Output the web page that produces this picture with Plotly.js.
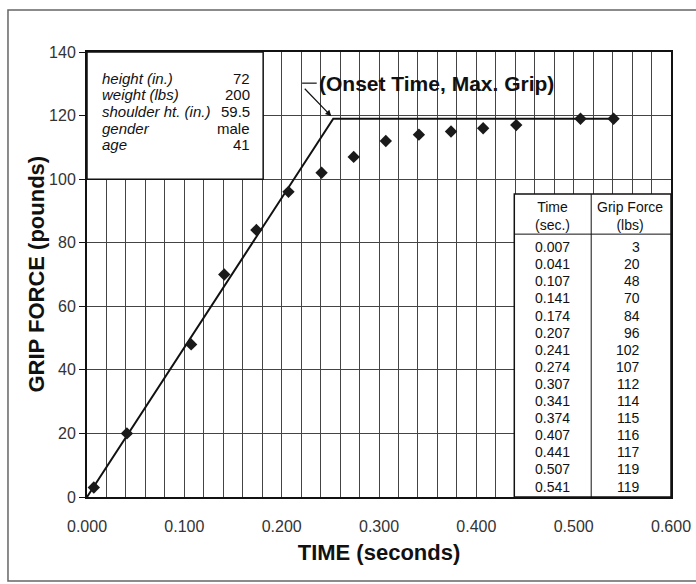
<!DOCTYPE html>
<html>
<head>
<meta charset="utf-8">
<script src="https://cdn.plot.ly/plotly-3.0.1.min.js"></script>
<style>
  html, body { margin: 0; padding: 0; background: #fff; }
  #chart { width: 696px; height: 584px; }
</style>
</head>
<body>
<div id="chart"></div>
<script>
// Measured grip force samples
const times = [0.007, 0.041, 0.107, 0.141, 0.174, 0.207, 0.241, 0.274, 0.307, 0.341, 0.374, 0.407, 0.441, 0.507, 0.541];
const force = [3, 20, 48, 70, 84, 96, 102, 107, 112, 114, 115, 116, 117, 119, 119];

// Ramp-and-hold fit: linear rise to the onset point, then constant
const onsetTime = 0.253;
const maxGrip = 119;
const fitX = [0, onsetTime, 0.541];
const fitY = [0, maxGrip, maxGrip];

// Subject description
const infoLabels = ['height (in.)', 'weight (lbs)', 'shoulder ht. (in.)', 'gender', 'age'];
const infoValues = ['72', '200', '59.5', 'male', '41'];

// Axis ticks
const xTicks = [0, 0.1, 0.2, 0.3, 0.4, 0.5, 0.6];
const yTicks = [0, 20, 40, 60, 80, 100, 120, 140];

const FONT = 'Liberation Sans, Arial, Helvetica, sans-serif';

const traces = [
  {
    x: fitX, y: fitY, type: 'scatter', mode: 'lines',
    line: { color: '#111', width: 2 }, hoverinfo: 'skip', showlegend: false
  },
  {
    x: times, y: force, type: 'scatter', mode: 'markers',
    marker: { symbol: 'diamond', size: 9.5, color: '#1a1a1a' },
    showlegend: false
  }
];

const shapes = [];
const annotations = [];

// Outer frame around the figure
shapes.push({
  type: 'rect', xref: 'paper', yref: 'paper',
  x0: -0.1353, x1: 1.06, y0: -0.1888, y1: 1.0944,
  line: { color: '#666', width: 1.5 }, fillcolor: 'rgba(0,0,0,0)', layer: 'below'
});

// Subject info box (top left)
shapes.push({
  type: 'rect', xref: 'x', yref: 'y', x0: 0, x1: 0.181, y0: 100, y1: 140,
  line: { color: '#111', width: 1.5 }, fillcolor: '#fff', layer: 'above'
});
const infoTop = 131.8, infoStep = 5.25;
infoLabels.forEach((lab, i) => {
  const y = infoTop - i * infoStep;
  annotations.push({
    x: 0.0134, y: y, xref: 'x', yref: 'y', text: '<i>' + lab + '</i>',
    showarrow: false, xanchor: 'left', yanchor: 'middle',
    font: { family: FONT, size: 15, color: '#111' }
  });
  annotations.push({
    x: 0.1696, y: y, xref: 'x', yref: 'y', text: infoValues[i],
    showarrow: false, xanchor: 'right', yanchor: 'middle',
    font: { family: FONT, size: 15, color: '#111' }
  });
});

// Data table box (bottom right)
const tblX0 = 0.439, tblX1 = 0.6, tblTop = 95.3, tblDiv = 0.518, tblHead = 82.7;
shapes.push({
  type: 'rect', xref: 'x', yref: 'y', x0: tblX0, x1: tblX1, y0: 0, y1: tblTop,
  line: { color: '#111', width: 1.5 }, fillcolor: '#fff', layer: 'above'
});
shapes.push({
  type: 'line', xref: 'x', yref: 'y', x0: tblDiv, x1: tblDiv, y0: 0, y1: tblTop,
  line: { color: '#111', width: 1 }, layer: 'above'
});
shapes.push({
  type: 'line', xref: 'x', yref: 'y', x0: tblX0, x1: tblX1, y0: tblHead, y1: tblHead,
  line: { color: '#111', width: 1 }, layer: 'above'
});
annotations.push({
  x: 0.478, y: 88.5, xref: 'x', yref: 'y', text: 'Time<br>(sec.)',
  showarrow: false, xanchor: 'center', yanchor: 'middle', align: 'center',
  font: { family: FONT, size: 14, color: '#111' }
});
annotations.push({
  x: 0.558, y: 88.5, xref: 'x', yref: 'y', text: 'Grip Force<br>(lbs)',
  showarrow: false, xanchor: 'center', yanchor: 'middle', align: 'center',
  font: { family: FONT, size: 14, color: '#111' }
});
const rowTop = 78.6, rowStep = 5.38;
times.forEach((t, i) => {
  const y = rowTop - i * rowStep;
  annotations.push({
    x: 0.478, y: y, xref: 'x', yref: 'y', text: t.toFixed(3),
    showarrow: false, xanchor: 'center', yanchor: 'middle',
    font: { family: FONT, size: 14, color: '#111' }
  });
  annotations.push({
    x: 0.570, y: y, xref: 'x', yref: 'y', text: String(force[i]),
    showarrow: false, xanchor: 'right', yanchor: 'middle',
    font: { family: FONT, size: 14, color: '#111' }
  });
});

// Callout for the onset point
shapes.push({
  type: 'line', xref: 'x', yref: 'y', x0: 0.221, x1: 0.236, y0: 130.2, y1: 130.2,
  line: { color: '#111', width: 1.2 }, layer: 'above'
});
annotations.push({
  x: onsetTime - 0.002, y: maxGrip + 0.8, xref: 'x', yref: 'y', text: '',
  showarrow: true, arrowhead: 2, arrowsize: 1, arrowwidth: 1.2, arrowcolor: '#111',
  ax: -28, ay: -29, standoff: 0
});
annotations.push({
  x: 0.236, y: 130.2, xref: 'x', yref: 'y', text: '<b>(Onset Time, Max. Grip)</b>',
  showarrow: false, xanchor: 'left', yanchor: 'middle',
  font: { family: FONT, size: 21, color: '#111' }
});

// Vertical axis title
annotations.push({
  x: -0.0873, y: 0.5, xref: 'paper', yref: 'paper', text: '<b>GRIP FORCE (pounds)</b>',
  textangle: -90, showarrow: false, xanchor: 'center', yanchor: 'middle',
  font: { family: FONT, size: 22, color: '#111' }
});

const layout = {
  width: 696, height: 584,
  margin: { l: 87, r: 25, t: 52, b: 87 },
  paper_bgcolor: '#fff', plot_bgcolor: '#fff',
  showlegend: false,
  xaxis: {
    range: [0, 0.6], tickvals: xTicks, tickformat: '.3f',
    ticks: '', ticklabelstandoff: 14,
    tickfont: { family: FONT, size: 16, color: '#333' },
    showgrid: true, gridcolor: '#444', gridwidth: 1,
    minor: { dtick: 0.02, showgrid: true, gridcolor: '#444', gridwidth: 1 },
    zeroline: false, showline: true, mirror: true, linecolor: '#111', linewidth: 2,
    title: { text: '<b>TIME (seconds)</b>', font: { family: FONT, size: 22, color: '#111' }, standoff: 10 }
  },
  yaxis: {
    range: [0, 140], tickvals: yTicks,
    ticks: 'outside', ticklen: 6, tickcolor: '#111', tickwidth: 1,
    tickfont: { family: FONT, size: 16, color: '#333' },
    showgrid: true, gridcolor: '#444', gridwidth: 1,
    zeroline: false, showline: true, mirror: true, linecolor: '#111', linewidth: 2
  },
  shapes: shapes,
  annotations: annotations
};

Plotly.newPlot('chart', traces, layout, { displayModeBar: false, staticPlot: true });
</script>
</body>
</html>
